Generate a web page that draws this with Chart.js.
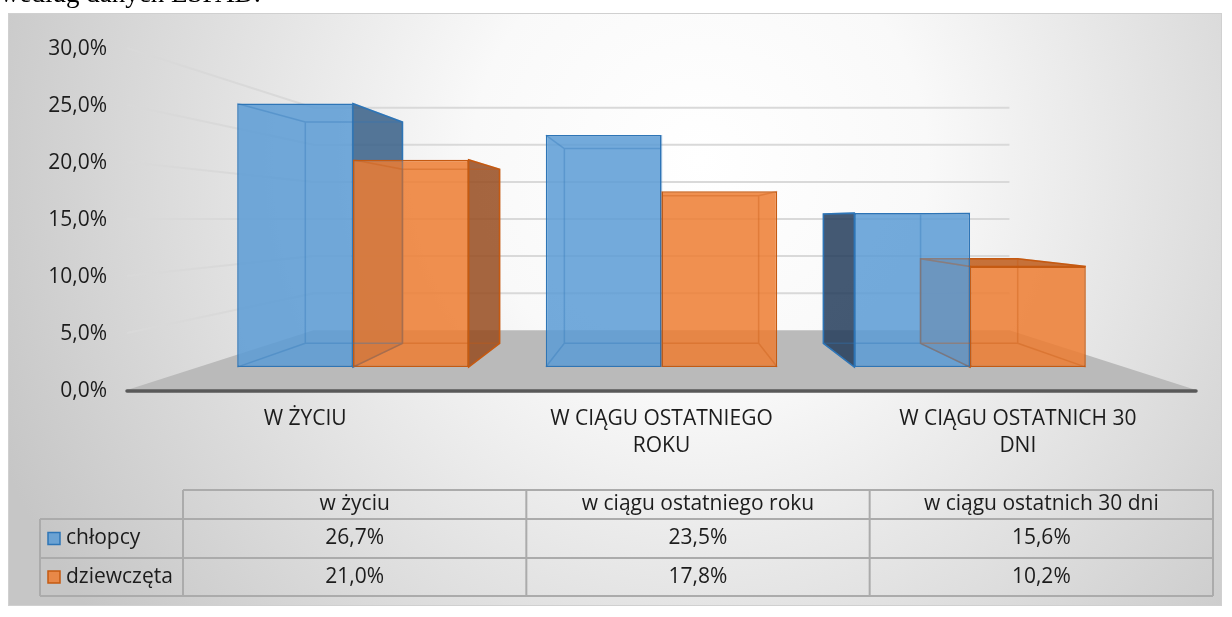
<!DOCTYPE html>
<html lang="pl">
<head>
<meta charset="utf-8">
<script src="https://cdn.jsdelivr.net/npm/chart.js@4"></script>
<style>
  html, body { margin: 0; padding: 0; background: #fff; }
  #wrap { position: relative; width: 1232px; height: 617px; overflow: hidden; }
  #note { position: absolute; left: 0px; top: -20px; font: 27px/27px "Liberation Serif", serif; color: #000; white-space: nowrap; }
  canvas { position: absolute; left: 0; top: 0; }
</style>
</head>
<body>
<div id="wrap">
  <canvas id="chart" width="1232" height="617"></canvas>
  <div id="note">według danych ESPAD.</div>
</div>
<script>
const categories = [["W ŻYCIU"], ["W CIĄGU OSTATNIEGO", "ROKU"], ["W CIĄGU OSTATNICH 30", "DNI"]];
const tableHeaders = ["w życiu", "w ciągu ostatniego roku", "w ciągu ostatnich 30 dni"];
const seriesNames = ["chłopcy", "dziewczęta"];
const boys = [26.7, 23.5, 15.6];
const girls = [21.0, 17.8, 10.2];
const yTicks = [0, 5, 10, 15, 20, 25, 30];

// depth of the planes, relative to the front edge of the floor (vanishing point = centre of chart area)
const FRONT = 0.866;
const BACK = 0.727;
const WALL = 0.651;

const FONT = "'Open Sans', sans-serif";
const TEXT = "#1c1c1c";

const STYLE = [
  { front: "rgba(91,155,213,0.85)", edge: "#2e75b6", ghost: "rgba(46,117,182,0.35)",
    left: "rgba(35,60,90,0.85)", right: "rgba(55,95,135,0.85)", top: "rgba(70,120,170,0.85)" },
  { front: "rgba(237,125,49,0.85)", edge: "#c55a11", ghost: "rgba(197,90,17,0.35)",
    left: "rgba(200,100,40,0.85)", right: "rgba(150,75,30,0.85)", top: "rgba(190,90,25,0.85)" },
];

const fmt = (v) => v.toFixed(1).replace(".", ",") + "%";

function boxes(chart, fn) {
  chart.data.datasets.forEach((ds, d) => {
    chart.getDatasetMeta(d).data.forEach((bar) => {
      const p = bar.getProps(["x", "y", "base", "width"], true);
      const a = chart.chartArea;
      const c = { x: (a.left + a.right) / 2, y: (a.top + a.bottom) / 2 };
      const k = BACK / FRONT;
      const x0 = p.x - p.width / 2, x1 = p.x + p.width / 2;
      const f = [[x0, p.y], [x1, p.y], [x1, p.base], [x0, p.base]];
      const b = f.map((q) => [c.x + (q[0] - c.x) * k, c.y + (q[1] - c.y) * k]);
      fn(STYLE[d], f, b, c);
    });
  });
}

const scene = {
  id: "scene",
  beforeDraw(chart) {
    const ctx = chart.ctx;
    ctx.save();
    const g = ctx.createRadialGradient(700, 160, 0, 700, 160, 760);
    g.addColorStop(0, "#ffffff");
    g.addColorStop(0.3, "#f9f9f9");
    g.addColorStop(1, "#c6c6c6");
    ctx.fillStyle = g;
    ctx.fillRect(9, 14, 1212, 591);
    ctx.strokeStyle = "#d0d0d0";
    ctx.lineWidth = 1;
    ctx.strokeRect(8.5, 13.5, 1213, 592);
    ctx.restore();
  },
  beforeDatasetsDraw(chart) {
    const { ctx, chartArea: a, scales } = chart;
    const c = { x: (a.left + a.right) / 2, y: (a.top + a.bottom) / 2 };
    const proj = (x, y, s) => [c.x + (x - c.x) * s, c.y + (y - c.y) * s];
    ctx.save();
    // side and back wall gridlines
    ctx.lineWidth = 2;
    ctx.strokeStyle = "#d9d9d9";
    scales.y.ticks.forEach((t) => {
      if (t.value === 0) return;
      const yy = scales.y.getPixelForValue(t.value);
      const bl = proj(a.left, yy, WALL), br = proj(a.right, yy, WALL);
      ctx.beginPath();
      ctx.moveTo(a.left, yy);
      ctx.lineTo(bl[0], bl[1]);
      ctx.lineTo(br[0], br[1]);
      ctx.stroke();
    });
    // floor
    const fl = proj(a.left, a.bottom, WALL), fr = proj(a.right, a.bottom, WALL);
    ctx.fillStyle = "#bababa";
    ctx.beginPath();
    ctx.moveTo(a.left, a.bottom);
    ctx.lineTo(a.right, a.bottom);
    ctx.lineTo(fr[0], fr[1]);
    ctx.lineTo(fl[0], fl[1]);
    ctx.closePath();
    ctx.fill();
    ctx.strokeStyle = "#595959";
    ctx.lineWidth = 3.5;
    ctx.lineCap = "round";
    ctx.beginPath();
    ctx.moveTo(a.left, a.bottom + 1);
    ctx.lineTo(a.right, a.bottom + 1);
    ctx.stroke();
    ctx.lineCap = "butt";
    // visible side / top faces of the bars
    ctx.lineWidth = 1.5;
    boxes(chart, (st, f, b, cc) => {
      const face = (i, j, color) => {
        ctx.fillStyle = color;
        ctx.strokeStyle = st.edge;
        ctx.beginPath();
        ctx.moveTo(f[i][0], f[i][1]);
        ctx.lineTo(f[j][0], f[j][1]);
        ctx.lineTo(b[j][0], b[j][1]);
        ctx.lineTo(b[i][0], b[i][1]);
        ctx.closePath();
        ctx.fill();
        ctx.stroke();
      };
      if (f[0][0] > cc.x + 1) face(0, 3, st.left);
      if (f[1][0] < cc.x - 1) face(1, 2, st.right);
      if (f[0][1] > cc.y + 1) face(0, 1, st.top);
    });
    ctx.restore();
  },
  afterDatasetsDraw(chart) {
    const ctx = chart.ctx;
    ctx.save();
    ctx.lineWidth = 1.5;
    boxes(chart, (st, f, b) => {
      ctx.strokeStyle = st.ghost;
      ctx.beginPath();
      b.forEach((q, i) => (i ? ctx.lineTo(q[0], q[1]) : ctx.moveTo(q[0], q[1])));
      ctx.closePath();
      f.forEach((q, i) => {
        ctx.moveTo(q[0], q[1]);
        ctx.lineTo(b[i][0], b[i][1]);
      });
      ctx.stroke();
    });
    ctx.restore();
  },
  afterDraw(chart) {
    // data table under the chart
    const ctx = chart.ctx;
    const left = 40, split = 183, right = 1213;
    const rows = [490, 519, 558, 596];
    const colW = (right - split) / tableHeaders.length;
    ctx.save();
    ctx.strokeStyle = "#ababab";
    ctx.lineWidth = 2;
    ctx.beginPath();
    ctx.moveTo(split, rows[0]);
    ctx.lineTo(right, rows[0]);
    for (let r = 1; r < rows.length; r++) {
      ctx.moveTo(left, rows[r]);
      ctx.lineTo(right, rows[r]);
    }
    ctx.moveTo(left, rows[1]);
    ctx.lineTo(left, rows[3]);
    for (let i = 0; i <= tableHeaders.length; i++) {
      ctx.moveTo(split + i * colW, rows[0]);
      ctx.lineTo(split + i * colW, rows[3]);
    }
    ctx.stroke();

    ctx.font = "21px " + FONT;
    ctx.fillStyle = TEXT;
    ctx.textBaseline = "middle";
    ctx.textAlign = "center";
    tableHeaders.forEach((h, i) => ctx.fillText(h, split + (i + 0.5) * colW, (rows[0] + rows[1]) / 2));
    [boys, girls].forEach((vals, r) => {
      const yMid = (rows[r + 1] + rows[r + 2]) / 2;
      vals.forEach((v, i) => {
        ctx.fillStyle = TEXT;
        ctx.fillText(fmt(v), split + (i + 0.5) * colW, yMid);
      });
      ctx.fillStyle = STYLE[r].front;
      ctx.fillRect(48, yMid - 6, 12, 12);
      ctx.strokeStyle = STYLE[r].edge;
      ctx.lineWidth = 1.5;
      ctx.strokeRect(48, yMid - 6, 12, 12);
      ctx.fillStyle = TEXT;
      ctx.textAlign = "left";
      ctx.fillText(seriesNames[r], 66, yMid);
      ctx.textAlign = "center";
    });
    ctx.restore();
  },
};

const barMinY = (-15 * (1 - FRONT)) / FRONT;

new Chart(document.getElementById("chart"), {
  type: "bar",
  data: {
    labels: categories,
    datasets: [boys, girls].map((vals, d) => ({
      label: seriesNames[d],
      data: vals.map((v, i) => ({ x: i, y: v })),
      xAxisID: "xb",
      yAxisID: "yb",
      backgroundColor: STYLE[d].front,
      borderColor: STYLE[d].edge,
      borderWidth: 1.5,
      borderSkipped: false,
      categoryPercentage: 0.75,
      barPercentage: 1,
    })),
  },
  options: {
    responsive: false,
    animation: false,
    layout: { padding: { left: 30, right: 36, top: 48, bottom: 0 } },
    plugins: { legend: { display: false }, tooltip: { enabled: false } },
    scales: {
      x: {
        type: "category",
        offset: true,
        grid: { display: false, drawTicks: false },
        border: { display: false },
        ticks: { font: { family: FONT, size: 21, lineHeight: 1.286 }, color: TEXT, padding: 16, maxRotation: 0, autoSkip: false },
        afterFit: (s) => { s.height = 227; },
      },
      y: {
        type: "linear",
        position: "left",
        min: yTicks[0],
        max: yTicks[yTicks.length - 1],
        afterBuildTicks: (s) => { s.ticks = yTicks.map((v) => ({ value: v })); },
        grid: { display: false, drawTicks: false },
        border: { display: false },
        ticks: { callback: fmt, font: { family: FONT, size: 21 }, color: TEXT, padding: 20, labelOffset: 1.5 },
        afterFit: (s) => { s.width = 97; },
      },
      xb: {
        type: "linear", display: false, offset: false,
        min: 1 - 1.5 / FRONT, max: 1 + 1.5 / FRONT,
        afterBuildTicks: (s) => { s.ticks = categories.map((c, i) => ({ value: i })); },
      },
      yb: { type: "linear", display: false, offset: false, min: barMinY, max: barMinY + 30 / FRONT },
    },
  },
  plugins: [scene],
});
</script>
</body>
</html>
